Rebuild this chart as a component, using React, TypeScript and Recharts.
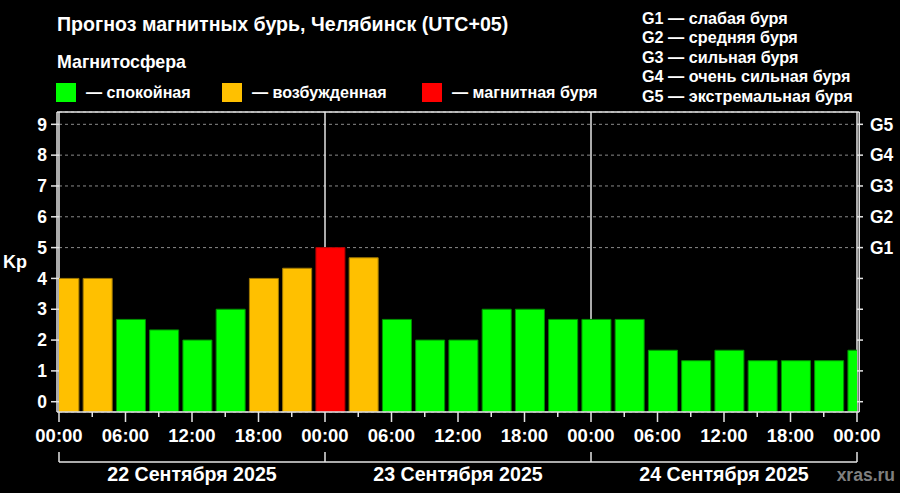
import React from "react";
import { BarChart, Bar, Cell, XAxis, YAxis, CartesianGrid, ReferenceLine } from "recharts";

// 3-hour Kp intervals, hour offsets from 22.09 00:00 (local, UTC+05)
const hours = [0.5, 3.5, 6.5, 9.5, 12.5, 15.5, 18.5, 21.5, 24.5, 27.5, 30.5, 33.5, 36.5, 39.5, 42.5, 45.5, 48.5, 51.5, 54.5, 57.5, 60.5, 63.5, 66.5, 69.5, 72.5];
const kp = [4, 4, 2.67, 2.33, 2, 3, 4, 4.33, 5, 4.67, 2.67, 2, 2, 3, 3, 2.67, 2.67, 2.67, 1.67, 1.33, 1.67, 1.33, 1.33, 1.33, 1.67];

const timeTicks = [0, 3, 6, 9, 12, 15, 18, 21, 24, 27, 30, 33, 36, 39, 42, 45, 48, 51, 54, 57, 60, 63, 66, 69, 72];
const timeLabels = ["00:00", "06:00", "12:00", "18:00"];
const dayTicks = [0, 12, 24, 36, 48, 60, 72];
const dayLabels = ["22 Сентября 2025", "23 Сентября 2025", "24 Сентября 2025"];
const dayBounds = [24, 48];
const kpTicks = [0, 1, 2, 3, 4, 5, 6, 7, 8, 9];
const gridLevels = [5, 6, 7, 8, 9];
const gLabels = ["G1", "G2", "G3", "G4", "G5"];

const stateNames = ["— спокойная", "— возбужденная", "— магнитная буря"];
const stormNames = ["G1 — слабая буря", "G2 — средняя буря", "G3 — сильная буря", "G4 — очень сильная буря", "G5 — экстремальная буря"];

const data = hours.map((h, i) => ({ h, kp: kp[i] }));

const FONT = "'Liberation Sans', Arial, sans-serif";
const GREEN = "#00ff00";
const ORANGE = "#ffc000";
const RED = "#ff0000";
const LINE = "#e4e4e4";

const Y_MIN = -0.334;
const Y_MAX = 9.4;
const X_LEFT = -0.18;
const X_RIGHT = 72.2;

const fillFor = (v: number) => (v >= 5 ? RED : v >= 4 ? ORANGE : GREEN);
const edgeFor = (v: number) => (v >= 5 ? "#b00000" : v >= 4 ? "#a07800" : "#009000");

const TimeTick = (props: any) => {
  const { x, y, payload } = props;
  const h = payload.value;
  const major = h % 6 === 0;
  return (
    <g>
      <line x1={x} x2={x} y1={y} y2={y + (major ? 10 : 5)} stroke={LINE} strokeWidth={1.5} />
      {major && (
        <text x={x} y={y + 30} textAnchor="middle" fill="#fff" fontSize={18.5} fontWeight="bold" fontFamily={FONT}>
          {timeLabels[(h % 24) / 6]}
        </text>
      )}
    </g>
  );
};

const DayTick = (props: any) => {
  const { x, y, payload } = props;
  const h = payload.value;
  if (h % 24 === 0) {
    return <line x1={x} x2={x} y1={y - 10} y2={y} stroke={LINE} strokeWidth={1.5} />;
  }
  return (
    <text x={x} y={y + 18.5} textAnchor="middle" fill="#fff" fontSize={19.6} fontWeight="bold" fontFamily={FONT}>
      {dayLabels[Math.floor(h / 24)]}
    </text>
  );
};

const Header = () => (
  <svg width={900} height={493} style={{ position: "absolute", left: 0, top: 0, pointerEvents: "none" }}>
    <g fontFamily={FONT} fontWeight="bold" fill="#fff">
      <text x={57} y={31} fontSize={19.6}>Прогноз магнитных бурь, Челябинск (UTC+05)</text>
      <text x={57} y={68} fontSize={17.8}>Магнитосфера</text>
      <rect x={56} y={83} width={20} height={19} fill={GREEN} />
      <text x={86} y={98} fontSize={16.1}>{stateNames[0]}</text>
      <rect x={222} y={83} width={20} height={19} fill={ORANGE} />
      <text x={252} y={98} fontSize={16.1}>{stateNames[1]}</text>
      <rect x={422} y={83} width={20} height={19} fill={RED} />
      <text x={452} y={98} fontSize={16.1}>{stateNames[2]}</text>
      {stormNames.map((s, i) => (
        <text key={s} x={642} y={23.5 + i * 19.6} fontSize={16.2}>{s}</text>
      ))}
      <text x={895} y={481} fontSize={17.5} textAnchor="end" fill="#7f7f7f">xras.ru</text>
    </g>
  </svg>
);

export default function App() {
  return (
    <div style={{ position: "fixed", left: 0, top: 0, width: 900, height: 493, background: "#000", overflow: "hidden" }}>
      <BarChart width={900} height={493} data={data} margin={{ top: 112, right: 0, bottom: 0, left: 0 }} barSize={29}>
        <XAxis
          xAxisId={0}
          dataKey="h"
          type="number"
          domain={[0, 72]}
          allowDataOverflow
          ticks={timeTicks}
          interval={0}
          height={50}
          tickSize={0}
          tickMargin={0}
          axisLine={false}
          tickLine={false}
          tick={<TimeTick />}
        />
        <XAxis
          xAxisId="days"
          dataKey="h"
          type="number"
          domain={[0, 72]}
          allowDataOverflow
          ticks={dayTicks}
          interval={0}
          height={31}
          tickSize={0}
          tickMargin={0}
          axisLine={{ stroke: LINE, strokeWidth: 1.5 }}
          tickLine={false}
          tick={<DayTick />}
        />
        <YAxis
          yAxisId="kp"
          type="number"
          domain={[Y_MIN, Y_MAX]}
          allowDataOverflow
          ticks={kpTicks}
          interval={0}
          width={59}
          tickSize={8}
          tickMargin={4}
          axisLine={false}
          tickLine={{ stroke: LINE, strokeWidth: 1.5 }}
          tick={{ fill: "#fff", fontSize: 17.5, fontWeight: "bold", fontFamily: FONT }}
          label={{ value: "Kp", position: "insideLeft", offset: 3, fill: "#fff", fontSize: 18, fontWeight: "bold", fontFamily: FONT }}
        />
        <YAxis
          yAxisId="g"
          orientation="right"
          type="number"
          domain={[Y_MIN, Y_MAX]}
          allowDataOverflow
          ticks={kpTicks}
          interval={0}
          width={43}
          tickSize={6}
          tickMargin={7}
          axisLine={false}
          tickLine={{ stroke: LINE, strokeWidth: 1.5 }}
          tickFormatter={(v: number) => (v >= 5 ? gLabels[v - 5] : "")}
          tick={{ fill: "#fff", fontSize: 17.5, fontWeight: "bold", fontFamily: FONT }}
        />
        {/* hidden zero-size axes that only feed the grid lines */}
        <XAxis xAxisId="bounds" dataKey="h" type="number" domain={[0, 72]} allowDataOverflow ticks={dayBounds} height={0} hide />
        <YAxis yAxisId="grid" orientation="right" type="number" domain={[Y_MIN, Y_MAX]} allowDataOverflow ticks={gridLevels} width={0} hide />
        <CartesianGrid xAxisId="bounds" yAxisId="grid" vertical={false} stroke="#8a8a8a" strokeDasharray="3 3" />
        <CartesianGrid xAxisId="bounds" yAxisId="grid" horizontal={false} stroke={LINE} strokeWidth={1.5} />
        <Bar xAxisId={0} yAxisId="kp" dataKey={(d: any) => [Y_MIN, d.kp]} isAnimationActive={false} strokeWidth={1}>
          {data.map((d) => (
            <Cell key={d.h} fill={fillFor(d.kp)} stroke={edgeFor(d.kp)} />
          ))}
        </Bar>
        <ReferenceLine xAxisId={0} yAxisId="kp" ifOverflow="visible" stroke={LINE} strokeWidth={1.5}
          segment={[{ x: X_LEFT, y: Y_MIN }, { x: X_LEFT, y: Y_MAX }]} />
        <ReferenceLine xAxisId={0} yAxisId="kp" ifOverflow="visible" stroke={LINE} strokeWidth={1.5}
          segment={[{ x: X_RIGHT, y: Y_MIN }, { x: X_RIGHT, y: Y_MAX }]} />
        <ReferenceLine xAxisId={0} yAxisId="kp" ifOverflow="visible" stroke={LINE} strokeWidth={1.5}
          segment={[{ x: X_LEFT, y: Y_MAX }, { x: X_RIGHT, y: Y_MAX }]} />
        <ReferenceLine xAxisId={0} yAxisId="kp" ifOverflow="visible" stroke={LINE} strokeWidth={1.5}
          segment={[{ x: X_LEFT, y: Y_MIN }, { x: X_RIGHT, y: Y_MIN }]} />
      </BarChart>
      <Header />
    </div>
  );
}
